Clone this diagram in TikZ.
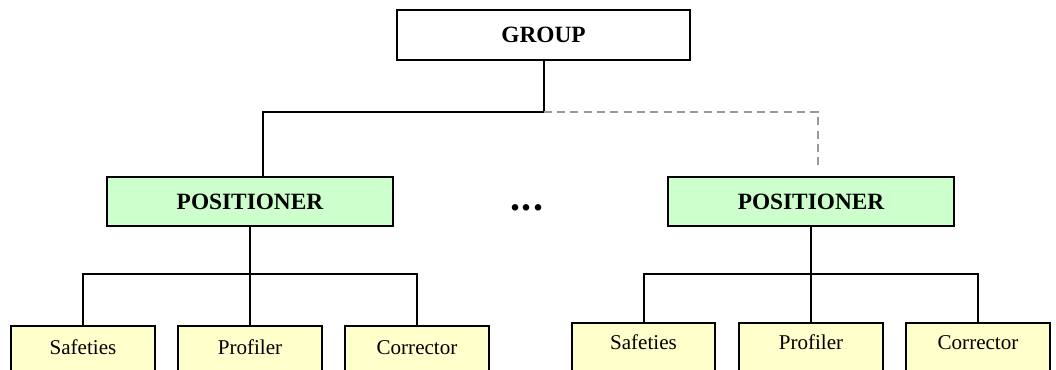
\documentclass[tikz,border=0pt]{standalone}
\usepackage{fontspec}
\setmainfont{Liberation Serif}
\usetikzlibrary{positioning}
\definecolor{posgreen}{HTML}{CCFFCC}
\definecolor{partyellow}{HTML}{FFFFCC}
\newcommand{\bigbold}{\fontsize{17.5}{20}\selectfont\bfseries}
\newcommand{\partfont}{\fontsize{15.8}{18}\selectfont}

\begin{document}
\begin{tikzpicture}[x=0.75pt, y=-0.75pt, line width=1.5pt]
\tikzset{
    every node/.style = {draw, rectangle, inner sep=0pt},
    groupbox/.style = {fill=white, minimum width=220pt, minimum height=37.5pt, font=\bigbold},
    posbox/.style = {fill=posgreen, minimum width=215pt, minimum height=36.75pt, font=\bigbold},
    partbox/.style = {fill=partyellow, anchor=north, minimum width=107.5pt,
                      text height=21pt, text depth=30pt, font=\partfont},
    maybe/.style = {draw=gray!80, dash pattern=on 6pt off 4pt}
}
\useasboundingbox (0,0) rectangle (1056,370);
\clip (0,0) rectangle (1056,370);

% -------------------------------------------------------
\node[groupbox] (group) at (543.5,35) {GROUP};

\node[posbox] (lpos) at (250,201.5) {POSITIONER};
\node[posbox] (rpos) at (811,201.5) {POSITIONER};

\node[draw=none, anchor=base, font=\fontsize{30}{32}\selectfont\bfseries] (more) at (527,211) {.\hspace{1pt}.\hspace{1pt}.};

\node[partbox] (lsaf) at (83,325) {Safeties};
\node[partbox] (lprof) at (250,325) {Profiler};
\node[partbox] (lcorr) at (417,325) {Corrector};

\node[partbox, text height=19.5pt] (rsaf) at (643.5,322) {Safeties};
\node[partbox, text height=19.5pt] (rprof) at (811,322) {Profiler};
\node[partbox, text height=19.5pt] (rcorr) at (978,322) {Corrector};

% -------------------------------------------------------
\coordinate (ltop) at (263,112);
\coordinate (rtop) at (818,112);
\coordinate (rend) at (818,170);
\coordinate (lbus) at (0,274);
\coordinate (rbus) at (0,274);

\draw (group.south) |- (ltop) -- (ltop |- lpos.north);
\draw[maybe] (group.south |- rtop) -- (rtop) -- (rend);

\draw (lpos.south) -- (lprof.north);
\draw (lsaf.north) -- (lsaf.north |- lbus) -- (lcorr.north |- lbus) -- (lcorr.north);

\draw (rpos.south) -- (rprof.north);
\draw (rsaf.north) -- (rsaf.north |- rbus) -- (rcorr.north |- rbus) -- (rcorr.north);
\end{tikzpicture}
\end{document}
